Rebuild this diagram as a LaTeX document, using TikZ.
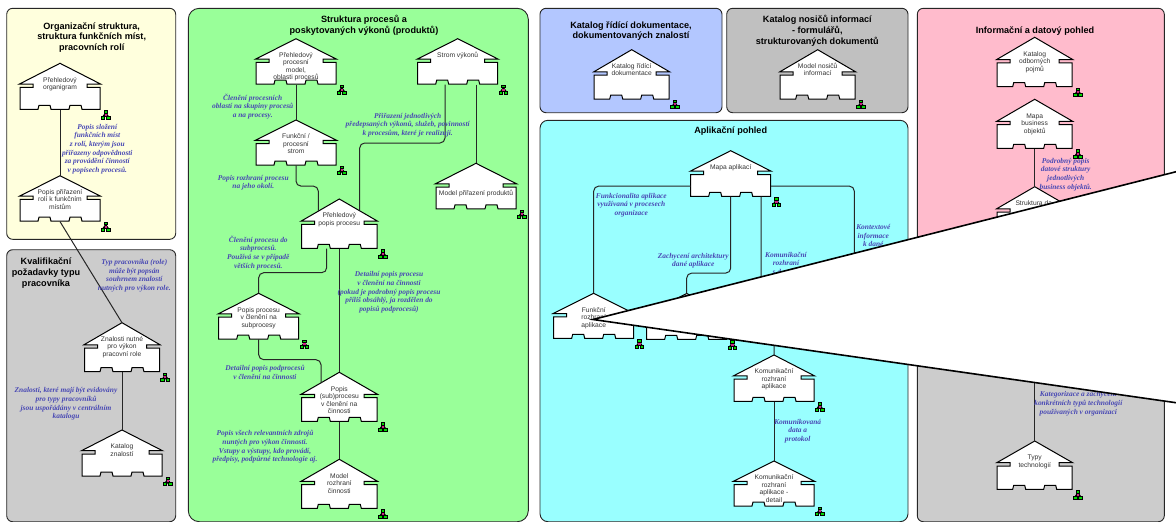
\documentclass[tikz,border=0pt]{standalone}
\usepackage{fontspec}
\setmainfont{Liberation Sans}
\newfontfamily\notefont{Liberation Serif}
\usetikzlibrary{calc}
\definecolor{panelyellow}{HTML}{FFFFDD}
\definecolor{panelgrey}{HTML}{CCCCCC}
\definecolor{panelgreen}{HTML}{99FF99}
\definecolor{panelblue}{HTML}{B3C7FF}
\definecolor{paneldark}{HTML}{C0C0C0}
\definecolor{panelcyan}{HTML}{99FFFF}
\definecolor{panelpink}{HTML}{FFBBCC}
\definecolor{noteblue}{HTML}{4848B4}
\tikzset{
  panelbox/.style={draw=black!85, line width=0.9pt, rounded corners=6pt},
  housebody/.style={draw=black, fill=white, line width=1pt, line join=miter},
  housetext/.style={inner sep=0pt, text=black!80, font=\fontsize{6.7}{7.5}\selectfont},
  titletext/.style={align=center, inner sep=0pt, font=\fontsize{9.1}{10.7}\selectfont\bfseries},
  notetext/.style={align=center, inner sep=0pt, text=noteblue, font=\notefont\fontsize{7.4}{8.7}\selectfont\bfseries\itshape},
  link/.style={draw=black!85, line width=1pt, rounded corners=5pt},
  treemark/.pic={
    \filldraw[draw=black, fill=black, line width=0.9pt, line join=round] (0,-2.5) -- (-2.8,1.5) -- (2.8,1.5) -- cycle;
    \filldraw[draw=black, fill=green!85!black, line width=0.9pt] (-1.7,-4.4) rectangle (1.7,-2);
    \filldraw[draw=black, fill=green!85!black, line width=0.9pt] (-4.3,1.2) rectangle (-0.8,4.2);
    \filldraw[draw=black, fill=green!85!black, line width=0.9pt] (0.8,1.2) rectangle (4.3,4.2);
    \fill[magenta!85!black] (-1.2,-1.4) rectangle (1.2,0.7);
  }
}
\begin{document}
\begin{tikzpicture}[x=1pt,y=-1pt]
  \useasboundingbox (0,0) rectangle (1176,522);

  % Panels
  \draw[panelbox, fill=panelyellow] (6.7,8.3) rectangle (175.7,239.3);
  \draw[panelbox, fill=panelgrey] (6.7,249.7) rectangle (175.7,521.7);
  \draw[panelbox, fill=panelgreen, rounded corners=11pt] (188.3,8.3) rectangle (528.3,521.7);
  \draw[panelbox, fill=panelblue] (540,8.3) rectangle (722,112.7);
  \draw[panelbox, fill=paneldark] (726.7,8.3) rectangle (908,112.7);
  \draw[panelbox, fill=panelcyan, rounded corners=8pt] (540,120.3) rectangle (908,521.7);
  \draw[panelbox, fill=panelpink] (917.3,8.3) rectangle (1164.3,295);
  \draw[panelbox, fill=panelgrey] (917.3,305) rectangle (1164.3,521.7);

  % Panel titles
  \node[titletext] (tOrg) at (91.7,37.5) {Organizační struktura,\\struktura funkčních míst,\\pracovních rolí};
  \node[titletext] (tSkill) at (46,273) {Kvalifikační\\požadavky typu\\pracovníka};
  \node[titletext] (tProc) at (364,25) {Struktura procesů a\\poskytovaných výkonů (produktů)};
  \node[titletext] (tDoc) at (631,31) {Katalog řídící dokumentace,\\dokumentovaných znalostí};
  \node[titletext] (tForm) at (817.3,30.7) {Katalog nosičů informací\\- formulářů,\\strukturovaných dokumentů};
  \node[titletext] (tApp) at (730.7,131) {Aplikační pohled};
  \node[titletext] (tData) at (1035,31) {Informační a datový pohled};

  % Houses: name / apex x / apex y / half width / height / text
  \foreach \hname/\xa/\ya/\hw/\hh/\txt
    [evaluate=\hw as \ww using 2*\hw, evaluate=\hh as \ee using 0.45*\hh] in {
    orgmap/60/63.3/40.5/46/{Přehledový\\organigram},
    roles/60/175.7/40.5/45.5/{Popis přiřazení\\rolí k funkčním\\místům},
    skills/122/322.7/38/49/{Znalosti nutné\\pro výkon\\pracovní role},
    skillcat/122/430/40.5/46/{Katalog\\znalostí},
    procmap/296/38.7/40.5/45.5/{Přehledový\\procesní\\model,\\oblasti procesů},
    proctree/296/120/40.5/45/{Funkční /\\procesní\\strom},
    servtree/457.7/38.7/40.5/45.5/{Strom výkonů},
    prodmodel/476/163.3/40.5/45.5/{\\[5.5pt]Model přiřazení produktů},
    procview/339.3/199/38.3/49.3/{Přehledový\\popis procesu},
    subproc/258.7/293.3/40.5/45.7/{Popis procesu\\v členění na\\subprocesy},
    activity/339.3/372.3/38.3/49/{Popis\\(sub)procesu\\v členění na\\činnosti},
    actmodel/339.3/459.3/38.3/49/{Model\\rozhraní\\činnosti},
    doccat/631.7/49.7/38/49.3/{Katalog řídící\\dokumentace},
    formcat/817.7/49.7/38/49.3/{Model nosičů\\informací},
    appmap/730.7/150.7/40.5/45.6/{Mapa aplikací},
    appfunc/593.7/293.3/40.5/45/{Funkční\\rozhraní\\aplikace},
    apparch/686.7/293.5/40.5/45.8/{},
    appcomm/774/355/40.5/46.3/{Komunikační\\rozhraní\\aplikace},
    appdetail/774/461/40.5/45/{Komunikační\\rozhraní\\aplikace -\\detail},
    terms/1034.7/37.3/38/49.4/{Katalog\\odborných\\pojmů},
    busmap/1034.7/99.3/38/49/{Mapa\\business\\objektů},
    datastruct/1034.7/186.7/38/49/{Struktura da\phantom{t}},
    techtypes/1034.7/441/38/48.3/{Typy\\technologií}} {
    \begin{scope}[shift={(\xa,\ya)}]
      \draw[housebody] (0,0) -- (\hw,\ee) -- (\hw-13.5,\ee) -- (\hw-13.5,\ee+3.3) -- (\hw-0.5,\ee+3.3)
        -- (\hw-0.5,\hh) -- (22,\hh) -- (21,\hh-4) -- (10,\hh-4) -- (9,\hh) -- (-9,\hh) -- (-10,\hh-4)
        -- (-21,\hh-4) -- (-22,\hh) -- (-\hw+0.5,\hh) -- (-\hw+0.5,\ee+3.3) -- (-\hw+13.5,\ee+3.3)
        -- (-\hw+13.5,\ee) -- (-\hw,\ee) -- cycle;
      \node[housetext, anchor=north] (\hname) at (0,0)
        {\parbox[c][\hh pt][t]{\ww pt}{\centering\vspace*{12.5pt}\rule{0pt}{6pt}\txt}};
    \end{scope}
    \pic at ($(\hname.south east)+(5,5.3)$) {treemark};
  }

  % Ends on roofs and walls
  \coordinate (procIn) at (318.3,211);
  \coordinate (servIn) at (359.7,210);
  \coordinate (actIn) at (321,383);
  \coordinate (ctxEnd) at (854.3,300);

  % Connectors
  \draw[link] (orgmap.south) -- (roles.north);
  \draw[link] (roles.south) -- (skills.north);
  \draw[link] (skills.south) -- (skillcat.north);
  \draw[link] (procmap.south) -- (proctree.north);
  \draw[link] (proctree.south) -- ++(0,20.7) -| (procIn);
  \draw[link] ($(servtree.south)+(-12.7,0)$) -- ++(0,58.4) -| (servIn);
  \draw[link] (prodmodel.north |- servtree.south) -- (prodmodel.north);
  \draw[link] ($(procview.south)+(-12.6,0)$) -- ++(0,24) -| (subproc.north);
  \draw[link] (procview.south) -- (activity.north);
  \draw[link] (subproc.south) -- ++(0,20.3) -| (actIn);
  \draw[link] (activity.south) -- (actmodel.north);
  \draw[link] ($(appmap.south west)+(0.5,-10.6)$) -| (appfunc.north);
  \draw[link] (appmap.south) -- ++(0,76.4) -| (apparch.north);
  \draw[link] ($(appmap.south)+(30.3,0)$) -- ++(0,114) -| (appcomm.north);
  \draw[link] ($(appmap.south east)+(-0.5,-10.6)$) -| (ctxEnd);
  \draw[link] (appcomm.south) -- (appdetail.north);
  \draw[link] (busmap.south) -- (datastruct.north);
  \draw[link] (datastruct.south) -- (techtypes.north);

  % Notes
  \node[notetext] (n1) at (97.3,149) {Popis složení\\funkčních míst\\z rolí, kterým jsou\\přiřazeny odpovědnosti\\za provádění činností\\v popisech procesů.};
  \node[notetext] (n2) at (134.3,275.8) {Typ pracovníka (role)\\může být popsán\\souhrnem znalostí\\nutných pro výkon role.};
  \node[notetext] (n3) at (66,404) {Znalosti, které mají být evidovány\\pro typy pracovníků\\jsou uspořádány v centrálním\\katalogu};
  \node[notetext] (n4) at (252.7,106.3) {Členění procesních\\oblastí na skupiny procesů\\a na procesy.};
  \node[notetext] (n5) at (407.7,125) {Přiřazení jednotlivých\\předepsaných výkonů, služeb, povinností\\k procesům, které je realizují.};
  \node[notetext] (n6) at (253.3,182.8) {Popis rozhraní procesu\\na jeho okolí.};
  \node[notetext] (n7) at (258.3,252.7) {Členění procesu do\\subprocesů.\\Používá se v případě\\větších procesů.};
  \node[notetext] (n8) at (389,292.3) {Detailní popis procesu\\v členění na činnosti\\(pokud je podrobný popis procesu\\příliš obsáhlý, ja rozdělen do\\popisů podprocesů)};
  \node[notetext] (n9) at (265,372.2) {Detailní popis podprocesů\\v členění na činnosti};
  \node[notetext] (n10) at (265,446.8) {Popis všech relevantních zdrojů\\nuntých pro výkon činnosti.\\Vstupy a výstupy, kdo provádí,\\předpisy, podpůrné technologie aj.};
  \node[notetext] (n11) at (631.3,205.2) {Funkcionalita aplikace\\využívaná v procesech\\organizace};
  \node[notetext] (n12) at (693.3,260.7) {Zachycení architektury\\dané aplikace};
  \node[notetext] (n13) at (786,263.2) {Komunikační\\rozhraní\\s d\phantom{alšími}};
  \node[notetext] (n14) at (873.3,235.7) {Kontextové\\informace\\k dané};
  \node[notetext] (n15) at (797.7,431.2) {Komunikovaná\\data a\\protokol};
  \node[notetext] (n16) at (1065.7,174.5) {Podrobný popis\\datové struktury\\jednotlivých\\business objektů.};
  \node[notetext] (n17) at (1078.3,403.8) {Kategorizace a zachycení\\konkrétních typů technologií\\používaných v organizaci};

  % White wedge over everything
  \filldraw[draw=black, fill=white, line width=1.6pt, line join=miter] (1190,168.2) -- (593,319.5) -- (1190,404.7);
\end{tikzpicture}
\end{document}
